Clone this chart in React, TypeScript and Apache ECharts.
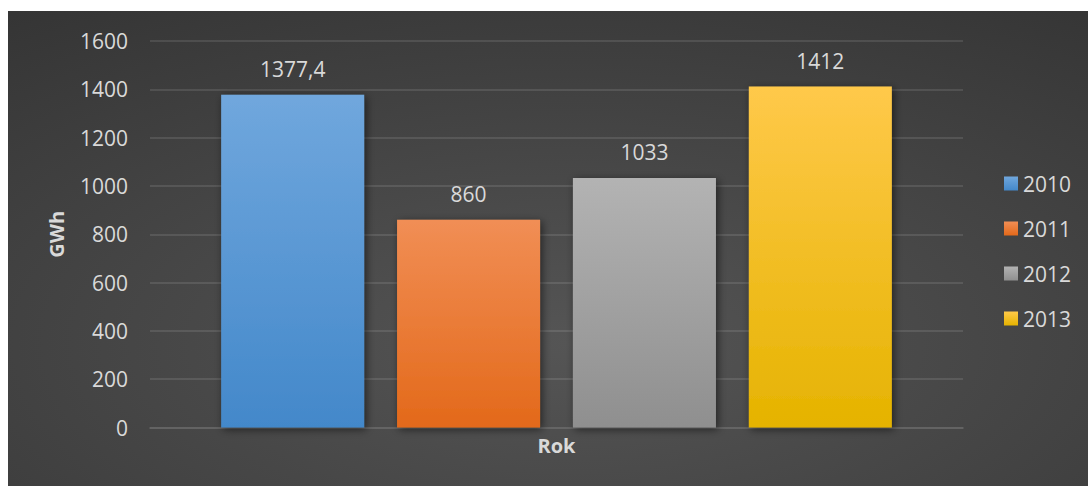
import React, { useEffect, useRef } from "react";
import * as echarts from "echarts";

const categories = ["Rok"];
const seriesNames = ["2010", "2011", "2012", "2013"];
const seriesValues = [1377.4, 860, 1033, 1412];
const yTicks = { min: 0, max: 1600, interval: 200 };

const gradients: [string, string][] = [
  ["#70a7dd", "#4388ca"],
  ["#f18e55", "#e3691a"],
  ["#b3b3b3", "#8f8f8f"],
  ["#ffc94a", "#e5b300"],
];

const FONT = "'Open Sans', 'Noto Sans', sans-serif";
const TEXT = "#d9d9d9";
const FS = 21;

export default function App() {
  const ref = useRef<HTMLDivElement>(null);
  useEffect(() => {
    if (!ref.current) return;
    const chart = echarts.init(ref.current, undefined, { renderer: "svg" });
    chart.setOption({
      animation: false,
      backgroundColor: {
        type: "radial",
        x: 0.52,
        y: 0.7,
        r: 1.35,
        colorStops: [
          { offset: 0, color: "#555555" },
          { offset: 1, color: "#232323" },
        ],
      },
      textStyle: { fontFamily: FONT },
      grid: { left: 142, right: 125, top: 30, bottom: 58.5 },
      legend: {
        orient: "vertical",
        left: 991,
        top: 157,
        itemWidth: 14,
        itemHeight: 14,
        itemGap: 24,
        icon: "rect",
        textStyle: { color: TEXT, fontSize: FS, fontFamily: FONT },
        data: seriesNames,
      },
      xAxis: {
        type: "category",
        data: categories,
        name: "Rok",
        nameLocation: "middle",
        nameGap: 8,
        nameTextStyle: { color: TEXT, fontSize: 20, fontWeight: "bold", fontFamily: FONT },
        axisLabel: { show: false },
        axisTick: { show: false },
        axisLine: { lineStyle: { color: "#676767", width: 1.5 } },
      },
      yAxis: {
        type: "value",
        min: yTicks.min,
        max: yTicks.max,
        interval: yTicks.interval,
        name: "GWh",
        nameLocation: "middle",
        nameGap: 84,
        nameTextStyle: { color: TEXT, fontSize: 20, fontWeight: "bold", fontFamily: FONT },
        axisLabel: {
          color: TEXT,
          fontSize: FS,
          margin: 22,
          fontFamily: FONT,
          formatter: (v: number) => String(v),
        },
        axisLine: { show: false },
        axisTick: { show: false },
        splitLine: { lineStyle: { color: "rgba(255,255,255,0.14)", width: 1.5 } },
      },
      series: seriesNames.map((name, i) => ({
        name,
        type: "bar",
        data: [seriesValues[i]],
        barWidth: 143,
        barGap: "23%",
        itemStyle: {
          color: {
            type: "linear",
            x: 0,
            y: 0,
            x2: 0,
            y2: 1,
            colorStops: [
              { offset: 0, color: gradients[i][0] },
              { offset: 1, color: gradients[i][1] },
            ],
          },
          shadowColor: "rgba(0,0,0,0.55)",
          shadowBlur: 9,
          shadowOffsetX: 2,
          shadowOffsetY: 2,
        },
        label: {
          show: true,
          position: "top",
          distance: 15,
          color: TEXT,
          fontSize: FS,
          fontFamily: FONT,
          formatter: (p: any) => String(p.value).replace(".", ","),
        },
      })),
    });
    return () => chart.dispose();
  }, []);
  return (
    <div
      ref={ref}
      style={{ position: "absolute", left: 8, top: 11, width: 1080, height: 475 }}
    />
  );
}
